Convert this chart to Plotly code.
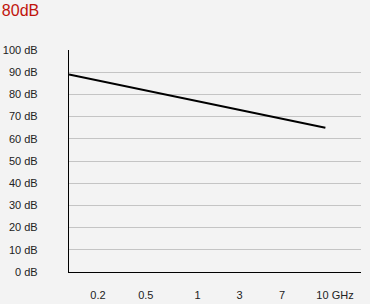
import plotly.graph_objects as go

# Data
tick_labels = ["0.2", "0.5", "1", "3", "7", "10 GHz"]
tick_positions = [9.9, 26.3, 44.0, 58.4, 73.0, 91.1]
line_x = [0, 87.8]
line_db = [89, 65]
y_ticks = list(range(0, 101, 10))
y_tick_labels = [f"{v} dB" for v in y_ticks]

fig = go.Figure()
fig.add_trace(go.Scatter(x=line_x, y=line_db, mode="lines",
                         line=dict(color="#000000", width=2), hoverinfo="skip"))

fig.update_layout(
    width=370, height=304,
    margin=dict(l=69, r=9, t=50, b=32, autoexpand=False),
    paper_bgcolor="#f3f3f3", plot_bgcolor="#f3f3f3",
    showlegend=False,
    font=dict(family="Liberation Sans, Arial, sans-serif", size=11, color="#222222"),
    title=dict(text="80dB", x=0.005, xanchor="left", y=0.985, yanchor="top",
               font=dict(size=16, color="#c0140c")),
)
fig.update_xaxes(range=[0, 100], tickvals=tick_positions, ticktext=tick_labels,
                 showgrid=False, zeroline=False, showline=True, linecolor="#000000",
                 linewidth=1.2, ticks="outside", ticklen=13, tickcolor="rgba(0,0,0,0)",
                 fixedrange=True, automargin=False)
fig.update_yaxes(range=[0, 100], tickvals=y_ticks, ticktext=y_tick_labels,
                 showgrid=True, gridcolor="#c4c4c4", gridwidth=1, zeroline=False,
                 showline=True, linecolor="#000000", linewidth=1.2,
                 ticks="outside", ticklen=28, tickcolor="rgba(0,0,0,0)",
                 fixedrange=True, automargin=False)

fig.write_html("out.html", config={"displayModeBar": False})
